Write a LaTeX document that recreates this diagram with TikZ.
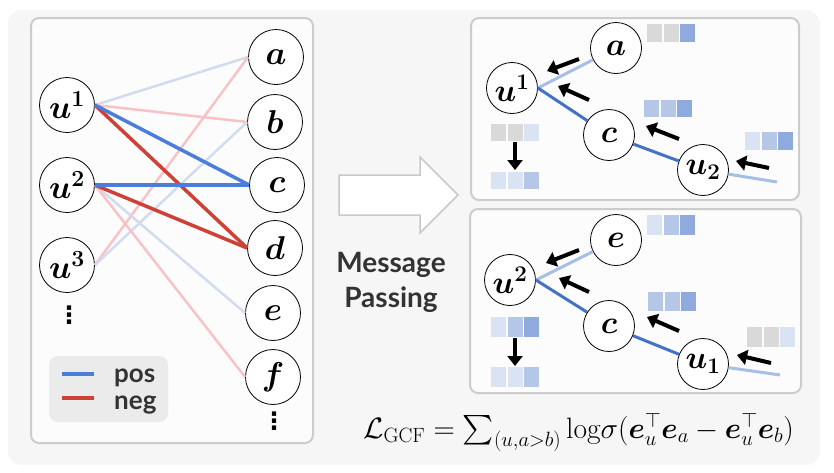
\RequirePackage{fix-cm}
\documentclass[tikz,border=0pt]{standalone}
\usepackage{amsmath,amssymb,bm}
\usepackage{fontspec}
\newfontfamily\lato{Lato}
\newfontfamily\dejavu{DejaVu Sans}
\usetikzlibrary{arrows.meta}
\definecolor{bgout}{HTML}{F6F6F6}
\definecolor{panel}{HTML}{FCFCFC}
\definecolor{frame}{HTML}{CCCCCC}
\definecolor{posc}{HTML}{4A7DDC}
\definecolor{negc}{HTML}{CF4136}
\definecolor{poslight}{HTML}{D3DBEF}
\definecolor{neglight}{HTML}{F8C3C7}
\definecolor{darkblue}{HTML}{4472C4}
\definecolor{lightblue}{HTML}{A9BEE6}
\definecolor{sqG}{HTML}{D9D9D9}
\definecolor{sqA}{HTML}{DAE3F3}
\definecolor{sqB}{HTML}{B4C7E7}
\definecolor{sqC}{HTML}{8FAADC}
\definecolor{legendbg}{HTML}{EBEBEB}
\definecolor{txt}{HTML}{333333}
\definecolor{arrowgray}{HTML}{C9C9C9}
\newcommand\embstrip[6]{%
  \fill[#4] (#1,#2) rectangle ++(15,#6);
  \fill[#5] (#1+16.5,#2) rectangle ++(15,#6);
  \fill[#3] (#1+33,#2) rectangle ++(15,#6);
}
\tikzset{
  gnode/.style={circle,draw=black,line width=0.8pt,fill=white,minimum size=55pt,inner sep=0pt,
    font=\fontsize{33}{33}\selectfont\boldmath},
  rnode/.style={gnode,minimum size=51pt,font=\fontsize{32}{32}\selectfont\boldmath},
  panelbox/.style={draw=frame,line width=2pt,fill=panel,rounded corners=8pt},
  strongpos/.style={posc,line width=3.5pt},
  strongneg/.style={negc,line width=3.5pt},
  weakpos/.style={poslight,line width=2.5pt},
  weakneg/.style={neglight,line width=2.5pt},
  dedge/.style={darkblue,line width=3pt},
  ledge/.style={lightblue,line width=3pt},
  marr/.style={black,line width=4pt,-{Triangle[length=10pt,width=15pt]}},
  sanslabel/.style={font=\lato\bfseries\fontsize{26}{26}\selectfont,text=txt,inner sep=0pt},
  mplabel/.style={sanslabel,font=\lato\bfseries\fontsize{28}{28}\selectfont},
  dotslabel/.style={font=\dejavu\bfseries\fontsize{24}{24}\selectfont,inner sep=0pt},
}
\begin{document}
\begin{tikzpicture}[x=1pt,y=-1pt]
\useasboundingbox (0,0) rectangle (834,472);
\fill[white] (0,0) rectangle (834,472);
\fill[bgout,rounded corners=14pt] (8,10) rectangle (820,465);

% panels
\draw[panelbox] (31,18) rectangle (313,443);
\draw[panelbox] (471,18) rectangle (799,200);
\draw[panelbox] (470,209) rectangle (801,393);

% legend
\fill[legendbg,rounded corners=9pt] (49,356) rectangle (168,422);
\coordinate (lp1) at (62,374); \coordinate (lp2) at (94,374);
\coordinate (ln1) at (62,398); \coordinate (ln2) at (94,398);
\draw[posc,line width=3.5pt] (lp1) -- (lp2);
\draw[negc,line width=3.5pt] (ln1) -- (ln2);
\node[sanslabel,anchor=base west] (tpos) at (114,382) {pos};
\node[sanslabel,anchor=base west] (tneg) at (114,409) {neg};

% left graph nodes
\node[gnode] (u1) at (67,105) {$u^{1}$};
\node[gnode] (u2) at (67,185) {$u^{2}$};
\node[gnode] (u3) at (67,265) {$u^{3}$};
\node[dotslabel] (udots) at (69,315) {⋮};
\node[gnode] (a) at (276,57) {$a$};
\node[gnode] (b) at (275,122) {$b$};
\node[gnode] (c) at (277,185) {$c$};
\node[gnode] (d) at (275,248) {$d$};
\node[gnode] (e) at (273,313) {$e$};
\node[gnode] (f) at (273,377) {$f$};
\node[dotslabel] (idots) at (274,421) {⋮};

% left graph edges
\draw[weakpos] (u1.east) -- (a.west);
\draw[weakneg] (u1.east) -- (b.west);
\draw[weakneg] (u3.east) -- (a.west);
\draw[weakpos] (u3.east) -- (b.west);
\draw[weakpos] (u2.east) -- (e.west);
\draw[weakneg] (u2.east) -- (f.west);
\draw[strongneg] (u1.east) -- (d.west);
\draw[strongpos] (u1.east) -- (c.west);
\draw[strongneg] (u2.east) -- (d.west);
\draw[strongpos] (u2.east) -- (c.west);

% big outline arrow
\draw[arrowgray,line width=1.5pt,fill=white,line join=miter]
  (339,175) -- (420,175) -- (420,157) -- (458,195) -- (420,233) -- (420,215) -- (339,215) -- cycle;
\node[mplabel,anchor=base] (mp1) at (391,272) {Message};
\node[mplabel,anchor=base] (mp2) at (391,307) {Passing};

% ---------- top right panel ----------
\node[rnode] (tu1) at (512,88) {$u^{1}$};
\node[rnode] (ta) at (616,48) {$a$};
\node[rnode] (tc) at (609,135) {$c$};
\node[rnode] (tu2) at (703,170) {$u_{2}$};
\coordinate (tend) at (777,182);
\draw[ledge] (tu1.east) -- (ta);
\draw[dedge] (tu1.east) -- (tc);
\draw[dedge] (tc) -- (tu2);
\draw[ledge] (tu2) -- (tend);
\coordinate (ta1s) at (579,59);  \coordinate (ta1e) at (547,71);
\coordinate (ta2s) at (589,100); \coordinate (ta2e) at (558,86);
\coordinate (ta3s) at (679,139); \coordinate (ta3e) at (646,126);
\coordinate (ta4s) at (769,168); \coordinate (ta4e) at (736,161);
\coordinate (ta5s) at (515,142); \coordinate (ta5e) at (515,170);
\draw[marr] (ta1s) -- (ta1e);
\draw[marr] (ta2s) -- (ta2e);
\draw[marr] (ta3s) -- (ta3e);
\draw[marr] (ta4s) -- (ta4e);
\draw[marr] (ta5s) -- (ta5e);
\embstrip{647}{24}{sqC}{sqG}{sqG}{18}
\embstrip{644}{100}{sqC}{sqB}{sqB}{17}
\embstrip{745}{132}{sqC}{sqA}{sqB}{18}
\embstrip{491}{124}{sqA}{sqG}{sqG}{17}
\embstrip{491}{172}{sqB}{sqA}{sqA}{17}

% ---------- bottom right panel ----------
\node[rnode] (bu2) at (510,280) {$u^{2}$};
\node[rnode] (be) at (616,240) {$e$};
\node[rnode] (bc) at (609,326) {$c$};
\node[rnode] (bu1) at (703,364) {$u_{1}$};
\coordinate (bend) at (780,375);
\draw[ledge] (bu2.east) -- (be);
\draw[dedge] (bu2.east) -- (bc);
\draw[dedge] (bc) -- (bu1);
\draw[ledge] (bu1) -- (bend);
\coordinate (ba1s) at (579,250); \coordinate (ba1e) at (546,263);
\coordinate (ba2s) at (589,292); \coordinate (ba2e) at (559,278);
\coordinate (ba3s) at (679,331); \coordinate (ba3e) at (647,317);
\coordinate (ba4s) at (771,363); \coordinate (ba4e) at (737,355);
\coordinate (ba5s) at (515,338); \coordinate (ba5e) at (515,366);
\draw[marr] (ba1s) -- (ba1e);
\draw[marr] (ba2s) -- (ba2e);
\draw[marr] (ba3s) -- (ba3e);
\draw[marr] (ba4s) -- (ba4e);
\draw[marr] (ba5s) -- (ba5e);
\embstrip{647}{215}{sqC}{sqA}{sqB}{20}
\embstrip{648}{292}{sqC}{sqB}{sqB}{19}
\embstrip{747}{327}{sqA}{sqG}{sqG}{20}
\embstrip{491}{317}{sqC}{sqA}{sqB}{20}
\embstrip{491}{367}{sqB}{sqA}{sqA}{20}

% formula
\node[anchor=base,inner sep=0pt,font=\fontsize{29.5}{34}\selectfont] (loss) at (578.5,438)
  {$\mathcal{L}_{\mathrm{GCF}}=\textstyle\sum_{(u,a>b)}\mathrm{log}\sigma(\bm{e}_u^{\top}\bm{e}_a-\bm{e}_u^{\top}\bm{e}_b)$};
\end{tikzpicture}
\end{document}
